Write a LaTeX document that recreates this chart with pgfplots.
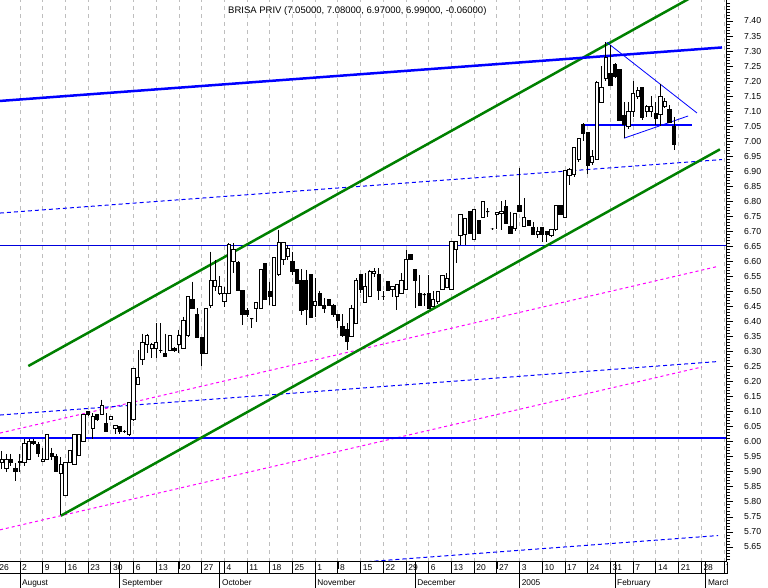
\documentclass[border=0pt]{standalone}
\usepackage{pgfplots}
\pgfplotsset{compat=1.18}
\usepackage{pgfplotstable}
\usepackage{fontspec}
\setmainfont{Liberation Sans}
\definecolor{cgreen}{RGB}{0,128,0}
\definecolor{cblue}{RGB}{0,0,255}
\definecolor{cmag}{RGB}{255,0,255}
\definecolor{cnavy}{RGB}{0,0,220}
\definecolor{cgrid}{RGB}{190,190,190}

\pgfplotstableread{
i O H L C
1 5.93 5.97 5.91 5.94
2 5.91 5.96 5.90 5.94
3 5.94 5.96 5.92 5.93
4 5.91 5.93 5.87 5.90
5 5.93 5.96 5.90 5.935
6 5.93 6.01 5.92 5.995
7 5.94 6.01 5.94 6.00
8 6.00 6.01 5.99 5.995
9 5.99 6.00 5.95 5.96
10 5.935 5.98 5.935 5.94
11 5.94 6.025 5.94 6.025
12 5.96 5.98 5.94 5.95
13 5.95 5.96 5.90 5.90
14 5.895 5.95 5.755 5.925
15 5.82 5.93 5.82 5.93
16 5.93 5.97 5.93 5.97
17 5.925 6.025 5.925 6.025
18 5.955 6.025 5.955 6.025
19 6.00 6.09 6.00 6.09
20 6.10 6.10 6.085 6.09
21 6.045 6.095 6.01 6.084
22 6.09 6.09 6.07 6.075
23 6.09 6.14 6.09 6.12
24 6.06 6.095 6.034 6.034
25 6.075 6.084 6.075 6.084
26 6.045 6.054 6.025 6.054
27 6.05 6.05 6.025 6.034
28 6.035 6.04 6.03 6.035
29 6.025 6.13 6.02 6.13
30 6.075 6.245 6.07 6.245
31 6.19 6.305 6.19 6.215
32 6.275 6.36 6.255 6.33
33 6.325 6.36 6.295 6.355
34 6.31 6.33 6.28 6.325
35 6.31 6.395 6.28 6.33
36 6.305 6.395 6.295 6.305
37 6.295 6.36 6.285 6.285
38 6.305 6.355 6.305 6.355
39 6.31 6.315 6.30 6.303
40 6.325 6.372 6.295 6.355
41 6.31 6.416 6.31 6.405
42 6.352 6.483 6.35 6.483
43 6.472 6.533 6.444 6.444
44 6.422 6.444 6.345 6.348
45 6.348 6.348 6.252 6.294
46 6.294 6.444 6.294 6.444
47 6.452 6.633 6.444 6.538
48 6.516 6.605 6.50 6.538
49 6.494 6.55 6.49 6.516
50 6.466 6.516 6.447 6.494
51 6.494 6.66 6.494 6.655
52 6.60 6.66 6.56 6.64
53 6.596 6.60 6.50 6.503
54 6.503 6.503 6.389 6.422
55 6.436 6.444 6.416 6.422
56 6.41 6.41 6.378 6.41
57 6.444 6.466 6.40 6.463
58 6.444 6.572 6.444 6.572
59 6.594 6.594 6.472 6.472
60 6.50 6.533 6.455 6.483
61 6.455 6.614 6.455 6.614
62 6.555 6.705 6.55 6.663
63 6.605 6.663 6.588 6.663
64 6.616 6.655 6.605 6.644
65 6.60 6.633 6.555 6.566
66 6.572 6.572 6.527 6.527
67 6.538 6.574 6.422 6.436
68 6.538 6.572 6.389 6.44
69 6.555 6.555 6.414 6.414
70 6.455 6.544 6.416 6.466
71 6.494 6.503 6.455 6.455
72 6.452 6.477 6.427 6.444
73 6.472 6.472 6.452 6.455
74 6.452 6.46 6.416 6.422
75 6.422 6.422 6.378 6.405
76 6.383 6.424 6.35 6.355
77 6.375 6.394 6.305 6.333
78 6.35 6.455 6.35 6.444
79 6.394 6.544 6.394 6.536
80 6.555 6.555 6.494 6.505
81 6.464 6.56 6.464 6.516
82 6.483 6.572 6.483 6.566
83 6.56 6.577 6.549 6.566
84 6.555 6.577 6.472 6.503
85 6.485 6.50 6.472 6.485
86 6.533 6.533 6.50 6.503
87 6.505 6.516 6.483 6.516
88 6.483 6.522 6.439 6.522
89 6.494 6.56 6.494 6.538
90 6.505 6.638 6.505 6.605
91 6.624 6.624 6.605 6.605
92 6.572 6.572 6.444 6.538
93 6.494 6.555 6.453 6.453
94 6.49 6.494 6.453 6.49
95 6.494 6.555 6.444 6.444
96 6.45 6.50 6.45 6.472
97 6.466 6.50 6.46 6.50
98 6.505 6.552 6.505 6.552
99 6.513 6.56 6.513 6.544
100 6.505 6.666 6.505 6.666
101 6.64 6.666 6.594 6.666
102 6.685 6.757 6.655 6.757
103 6.688 6.744 6.655 6.744
104 6.766 6.766 6.694 6.694
105 6.674 6.773 6.674 6.773
106 6.735 6.735 6.694 6.694
107 6.747 6.80 6.747 6.80
108 6.766 6.777 6.749 6.766
109 6.708 6.71 6.705 6.708
110 6.757 6.762 6.708 6.762
111 6.758 6.80 6.705 6.766
112 6.783 6.805 6.725 6.725
113 6.716 6.766 6.694 6.694
114 6.71 6.76 6.70 6.76
115 6.786 6.91 6.766 6.766
116 6.716 6.81 6.716 6.746
117 6.735 6.735 6.72 6.72
118 6.712 6.732 6.688 6.688
119 6.688 6.716 6.677 6.70
120 6.712 6.712 6.666 6.688
121 6.70 6.70 6.666 6.688
122 6.685 6.705 6.682 6.705
123 6.705 6.786 6.70 6.786
124 6.786 6.786 6.755 6.757
125 6.746 6.904 6.746 6.904
126 6.885 6.91 6.855 6.905
127 6.89 6.98 6.88 6.98
128 6.94 7.01 6.93 7.01
129 7.055 7.06 7.00 7.025
130 7.03 7.03 6.89 6.92
131 6.93 6.97 6.92 6.95
132 6.94 7.20 6.94 7.195
133 7.13 7.25 7.13 7.18
134 7.21 7.33 7.20 7.28
135 7.225 7.32 7.185 7.185
136 7.255 7.26 7.21 7.215
137 7.24 7.24 7.07 7.07
138 7.085 7.13 7.01 7.055
139 7.05 7.13 7.04 7.10
140 7.10 7.20 7.08 7.16
141 7.15 7.18 7.14 7.17
142 7.18 7.18 7.07 7.08
143 7.10 7.12 7.08 7.115
144 7.10 7.15 7.08 7.115
145 7.093 7.13 7.054 7.076
146 7.09 7.19 7.05 7.15
147 7.115 7.143 7.11 7.132
148 7.104 7.12 7.06 7.063
149 7.05 7.08 6.97 6.99
}\candles

\begin{document}
\begin{tikzpicture}
\useasboundingbox (0,-26.3pt) rectangle (768pt,561.7pt);
\begin{axis}[
  at={(0,0)}, anchor=south west,
  scale only axis, width=726pt, height=561.7pt,
  xmin=0.597, xmax=160.44, ymin=5.601, ymax=7.4699,
  axis line style={draw=none},
  xtick={5,10,...,160}, xticklabels={}, xtick pos=lower,
  xmajorgrids,
  major grid style={draw=cgrid, line width=0.9pt, dash pattern=on 4pt off 4pt},
  ytick={5.65,5.70,...,7.40},
  minor ytick={5.61,5.62,...,7.46},
  ytick pos=right, yticklabel pos=right,
  tick align=outside,
  major tick length=7pt, minor tick length=4pt,
  tick style={black, line width=0.8pt},
  yticklabel style={anchor=west, inner sep=0pt, xshift=11pt,
    font=\fontsize{8.7}{10}\selectfont,
    /pgf/number format/.cd, fixed, fixed zerofill, precision=2, assume math mode=true},
]
% moving channels and guide lines
\addplot[cmag, line width=1pt, dash pattern=on 3pt off 3pt] coordinates {(0.597,5.707) (155.16,6.249)};
\addplot[cmag, line width=1pt, dash pattern=on 3pt off 3pt] coordinates {(0.597,6.029) (158.5,6.583)};
\addplot[cblue, line width=1pt, dash pattern=on 4pt off 3pt] coordinates {(0.597,6.761) (159.56,6.939)};
\addplot[cblue, line width=1pt, dash pattern=on 4pt off 3pt] coordinates {(0.597,6.089) (158.7,6.267)};
\addplot[cblue, line width=1pt, dash pattern=on 4pt off 3pt] coordinates {(60,5.577) (158.7,5.688)};

% candles
\addplot[
  scatter, only marks, mark=*, mark size=0pt,
  mark options={draw=none, fill=none},
  visualization depends on={\thisrow{H}-\thisrow{O} \as \dH},
  visualization depends on={\thisrow{L}-\thisrow{O} \as \dL},
  visualization depends on={\thisrow{C}-\thisrow{O} \as \dC},
  scatter/@pre marker code/.code={%
    \draw[draw=black, line width=1pt] (axis direction cs:0,\dH) -- (axis direction cs:0,\dL);%
    \ifdim\dC pt>0pt
      \filldraw[draw=black, fill=white, line width=1pt] (axis direction cs:-0.36,0) rectangle (axis direction cs:0.36,\dC);%
    \else
      \filldraw[draw=black, fill=black, line width=1pt] (axis direction cs:-0.36,0) rectangle (axis direction cs:0.36,\dC);%
    \fi
  },
  scatter/@post marker code/.code={},
] table[x=i, y=O] {\candles};

\addplot[cnavy, line width=1pt] coordinates {(0.597,6.653) (160.44,6.653)};
\addplot[cblue, line width=1.4pt] coordinates {(0.597,6.013) (160.44,6.013)};
\addplot[cgreen, line width=2.5pt] coordinates {(6.83,6.252) (153,7.480)};
\addplot[cgreen, line width=2.5pt] coordinates {(14,5.754) (159.1,6.973)};
\addplot[cblue, line width=2.5pt] coordinates {(0.597,7.134) (159.56,7.312)};
\addplot[cblue, line width=1.3pt] coordinates {(129,7.054) (152.9,7.054)};
\addplot[cblue, line width=0.8pt] coordinates {(134.2,7.329) (154.05,7.094)};
\addplot[cblue, line width=0.8pt] coordinates {(137.98,7.010) (152.1,7.084)};
\end{axis}

% frame pieces
\draw[black, line width=1pt] (726pt,0) -- (726pt,561.7pt);
\draw[black, line width=1pt] (0,0) -- (727pt,0);
\draw[black, line width=1pt] (0,-12.3pt) -- (727pt,-12.3pt);
\draw[black, line width=1pt] (727pt,0) -- (727pt,-12.3pt);

% title
\node[anchor=base west, inner sep=0pt, font=\fontsize{9.5}{11}\selectfont] at (228pt,547.7pt)
  {BRISA PRIV (7.05000, 7.08000, 6.97000, 6.99000, -0.06000)};

% date axis
\begin{scope}
\clip (0,-26.3pt) rectangle (727pt,0.5pt);
\foreach \k/\lab in {0/26,5/2,10/9,15/16,20/23,25/30,30/6,35/13,40/20,45/27,50/4,55/11,60/18,65/25,70/1,75/8,80/15,85/22,90/29,95/6,100/13,105/20,110/27,115/3,120/10,125/17,130/24,135/31,140/7,145/14,150/21,155/28,160/7} {
  \pgfmathsetmacro\px{-2.71+4.542*\k}
  \draw[black, line width=1pt] (\px pt,0) -- (\px pt,-12.3pt);
  \node[anchor=base west, inner sep=0pt, font=\fontsize{8.5}{10}\selectfont] at (\px pt+2pt,-9pt) {\lab};
}
\foreach \k/\lab in {5/August,27/September,49/October,70/November,92/December,115/2005,136/February,156/March} {
  \pgfmathsetmacro\px{-2.71+4.542*\k}
  \draw[black, line width=1pt] (\px pt,0) -- (\px pt,-26.3pt);
  \node[anchor=base west, inner sep=0pt, font=\fontsize{8.3}{10}\selectfont] at (\px pt+2pt,-23.8pt) {\lab};
}
\end{scope}
\end{tikzpicture}
\end{document}
